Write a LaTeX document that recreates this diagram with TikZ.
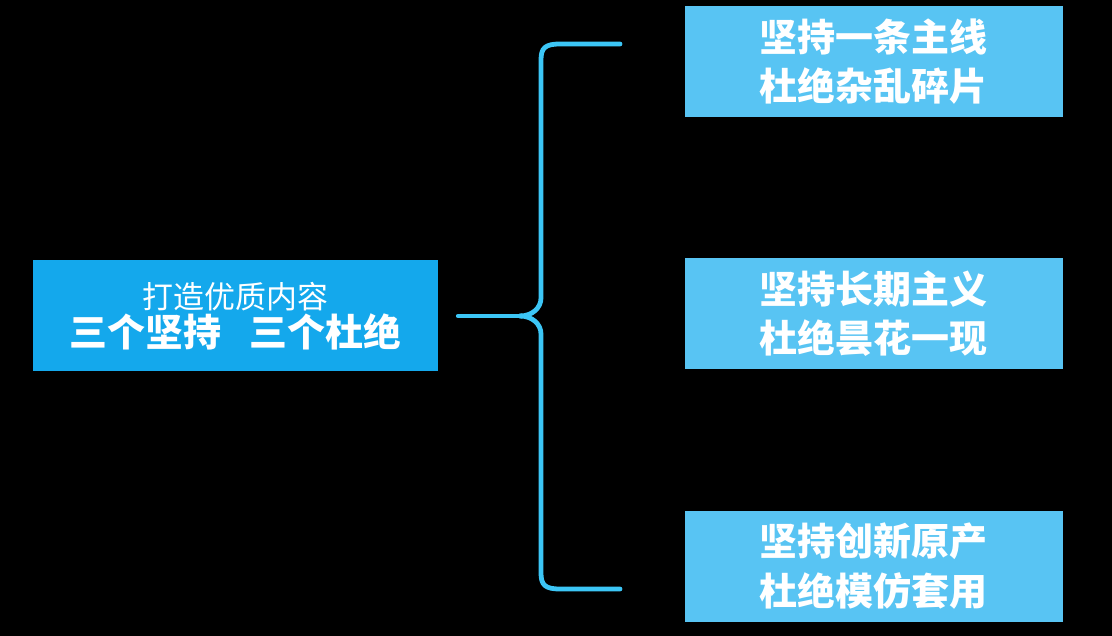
\documentclass[tikz,border=0pt]{standalone}
\usepackage{fontspec}
\usepackage{tikz}
\usetikzlibrary{positioning}
\usepackage{xcolor}
\newfontfamily\cjk{Noto Sans CJK SC}

\definecolor{mainblue}{HTML}{14A8EC}
\definecolor{itemblue}{HTML}{58C4F3}
\definecolor{braceblue}{HTML}{3CC6F6}

\tikzset{
    mainbox/.style={fill=mainblue, text=white, align=center, inner sep=0pt,
        minimum width=405*0.025cm, minimum height=111*0.025cm, font=\cjk},
    itembox/.style={fill=itemblue, text=white, align=center, inner sep=0pt,
        minimum width=378*0.025cm, minimum height=111*0.025cm,
        font=\cjk\bfseries\fontsize{27}{35}\selectfont},
    brace/.style={draw=braceblue, line width=3.4pt, line cap=round, line join=round}
}

\begin{document}
\begin{tikzpicture}[x=0.025cm,y=-0.025cm]
    % Background
    \fill[black] (0,0) rectangle (1112,636);
    \useasboundingbox (0,0) rectangle (1112,636);

    % Main box
    \node[mainbox] (main) at (235.5,316)
        {{\fontsize{22}{30}\selectfont 打造优质内容}\\[1pt]
         {\fontsize{27}{30}\selectfont\bfseries 三个坚持\hspace{0.75em}三个杜绝}};

    % Item boxes
    \foreach \name/\y/\first/\second in {
        line/62/坚持一条主线/杜绝杂乱碎片,
        long/314/坚持长期主义/杜绝昙花一现,
        orig/566/坚持创新原产/杜绝模仿套用} {
        \node[itembox] (\name) at (873.5,\y) {\first\\\second};
    }

    % Brace
    \coordinate (tip) at (520,316);
    \coordinate (topend) at (620,44);
    \coordinate (bottomend) at (620,589);
    \draw[brace] ([xshift=20*0.025cm]main.east) -- (tip);
    \draw[brace] (tip) .. controls (532,316) and (541,308) .. (541,298)
        -- (541,60) .. controls (541,48) and (545,44) .. (560,44) -- (topend);
    \draw[brace] (tip) .. controls (532,316) and (541,324) .. (541,334)
        -- (541,573) .. controls (541,585) and (545,589) .. (560,589) -- (bottomend);
\end{tikzpicture}
\end{document}
